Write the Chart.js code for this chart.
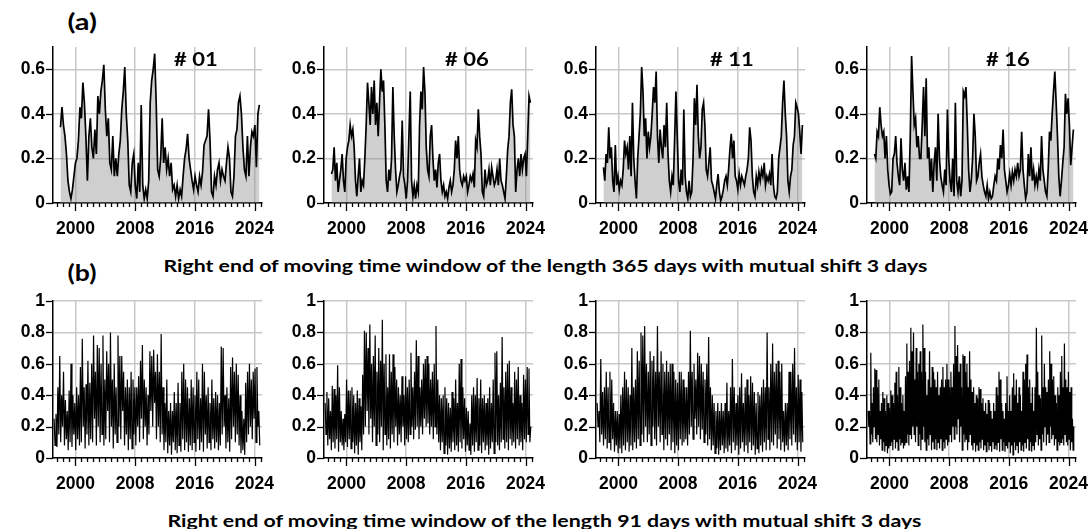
<!DOCTYPE html>
<html><head><meta charset="utf-8">
<script src="https://cdn.jsdelivr.net/npm/chart.js@4.4.1/dist/chart.umd.min.js"></script>
<style>
html,body{margin:0;padding:0;background:#fff;width:1090px;height:529px;overflow:hidden;position:relative}
canvas{position:absolute}
.t{position:absolute;font-family:Lato,'Noto Sans',sans-serif;font-weight:700;color:#000;white-space:nowrap;line-height:1;transform-origin:center center}
</style></head><body>
<script>
// ---- (a) 365-day window, panels #01 #06 #11 #16 ----
const a01=[0.34,0.43,0.35,0.30,0.22,0.10,0.05,0.02,0.06,0.12,0.18,0.20,0.28,0.43,0.38,0.54,0.45,0.30,0.10,0.30,0.38,0.25,0.20,0.33,0.22,0.48,0.40,0.50,0.55,0.62,0.42,0.30,0.38,0.18,0.15,0.30,0.12,0.20,0.12,0.22,0.28,0.42,0.50,0.61,0.40,0.28,0.08,0.05,0.18,0.22,0.08,0.02,0.18,0.05,0.44,0.08,0.02,0.06,0.02,0.10,0.45,0.55,0.60,0.67,0.45,0.15,0.12,0.20,0.38,0.18,0.25,0.15,0.20,0.12,0.18,0.06,0.08,0.03,0.08,0.02,0.06,0.03,0.12,0.20,0.24,0.31,0.20,0.15,0.10,0.06,0.12,0.08,0.05,0.12,0.08,0.14,0.26,0.28,0.30,0.42,0.28,0.05,0.03,0.12,0.08,0.15,0.18,0.10,0.15,0.12,0.10,0.18,0.25,0.20,0.05,0.03,0.12,0.30,0.33,0.45,0.48,0.40,0.25,0.15,0.12,0.30,0.12,0.25,0.32,0.30,0.35,0.16,0.40,0.44];
const a06=[0.13,0.15,0.25,0.10,0.18,0.05,0.10,0.15,0.22,0.10,0.05,0.20,0.25,0.28,0.35,0.30,0.33,0.25,0.10,0.03,0.12,0.20,0.05,0.10,0.08,0.20,0.35,0.54,0.45,0.35,0.52,0.40,0.55,0.35,0.45,0.30,0.45,0.60,0.50,0.55,0.35,0.10,0.05,0.15,0.10,0.20,0.52,0.30,0.15,0.05,0.08,0.12,0.15,0.37,0.12,0.08,0.02,0.10,0.30,0.50,0.10,0.03,0.08,0.02,0.08,0.05,0.35,0.50,0.42,0.61,0.50,0.25,0.15,0.12,0.30,0.35,0.20,0.10,0.15,0.07,0.18,0.22,0.10,0.05,0.08,0.03,0.05,0.02,0.07,0.10,0.05,0.08,0.15,0.28,0.20,0.30,0.15,0.10,0.08,0.12,0.10,0.12,0.05,0.08,0.12,0.10,0.13,0.07,0.28,0.25,0.42,0.30,0.22,0.05,0.03,0.15,0.08,0.10,0.15,0.08,0.16,0.12,0.08,0.10,0.15,0.08,0.20,0.10,0.08,0.05,0.02,0.12,0.24,0.30,0.45,0.51,0.35,0.30,0.05,0.15,0.20,0.12,0.22,0.15,0.20,0.22,0.12,0.30,0.48,0.45];
const a11=[0.16,0.10,0.22,0.18,0.34,0.20,0.25,0.10,0.05,0.26,0.08,0.12,0.06,0.10,0.08,0.15,0.28,0.22,0.25,0.15,0.30,0.12,0.45,0.20,0.10,0.02,0.20,0.30,0.40,0.61,0.50,0.30,0.38,0.20,0.32,0.25,0.30,0.40,0.52,0.45,0.59,0.30,0.18,0.33,0.25,0.20,0.35,0.25,0.45,0.22,0.10,0.05,0.12,0.08,0.28,0.50,0.30,0.10,0.05,0.15,0.08,0.42,0.12,0.05,0.02,0.10,0.03,0.05,0.20,0.47,0.35,0.53,0.30,0.20,0.25,0.42,0.45,0.35,0.15,0.12,0.18,0.25,0.10,0.08,0.05,0.02,0.08,0.13,0.05,0.01,0.03,0.06,0.10,0.12,0.08,0.15,0.24,0.31,0.20,0.28,0.12,0.10,0.06,0.13,0.08,0.12,0.10,0.08,0.12,0.15,0.20,0.34,0.28,0.12,0.05,0.03,0.12,0.08,0.14,0.10,0.15,0.12,0.18,0.08,0.12,0.10,0.13,0.08,0.22,0.08,0.03,0.02,0.05,0.20,0.25,0.30,0.45,0.55,0.40,0.30,0.10,0.05,0.12,0.15,0.26,0.30,0.45,0.43,0.40,0.32,0.22,0.35];
const a16=[0.22,0.20,0.32,0.30,0.43,0.35,0.30,0.32,0.20,0.30,0.15,0.08,0.04,0.05,0.20,0.22,0.30,0.18,0.12,0.08,0.29,0.15,0.10,0.18,0.06,0.12,0.05,0.30,0.66,0.50,0.35,0.38,0.25,0.30,0.20,0.20,0.35,0.52,0.30,0.56,0.20,0.25,0.10,0.20,0.05,0.18,0.25,0.10,0.40,0.20,0.12,0.08,0.05,0.15,0.08,0.42,0.20,0.10,0.05,0.20,0.03,0.45,0.10,0.05,0.12,0.03,0.10,0.50,0.48,0.52,0.35,0.15,0.05,0.10,0.20,0.40,0.30,0.10,0.12,0.18,0.22,0.12,0.08,0.05,0.03,0.08,0.02,0.05,0.02,0.03,0.08,0.12,0.10,0.20,0.15,0.26,0.20,0.33,0.15,0.10,0.05,0.08,0.13,0.08,0.14,0.10,0.15,0.12,0.18,0.12,0.15,0.32,0.15,0.08,0.02,0.05,0.22,0.12,0.25,0.10,0.15,0.08,0.12,0.08,0.15,0.10,0.30,0.15,0.10,0.05,0.03,0.15,0.32,0.28,0.40,0.50,0.59,0.45,0.30,0.12,0.03,0.10,0.18,0.25,0.49,0.40,0.47,0.35,0.17,0.25,0.33];

// ---- (b) 91-day window, same panels ----
const b01=[0.25,0.08,0.28,0.07,0.45,0.15,0.65,0.1,0.4,0.2,0.55,0.08,0.37,0.12,0.3,0.05,0.43,0.1,0.6,0.07,0.4,0.15,0.35,0.05,0.45,0.12,0.4,0.08,0.58,0.1,0.76,0.2,0.45,0.06,0.47,0.15,0.62,0.08,0.48,0.12,0.6,0.1,0.78,0.25,0.55,0.08,0.72,0.2,0.7,0.1,0.6,0.15,0.78,0.08,0.5,0.12,0.68,0.3,0.6,0.1,0.8,0.2,0.5,0.06,0.6,0.15,0.45,0.1,0.78,0.2,0.65,0.12,0.65,0.3,0.55,0.08,0.45,0.15,0.5,0.05,0.45,0.12,0.55,0.06,0.5,0.15,0.45,0.08,0.45,0.2,0.52,0.1,0.62,0.25,0.72,0.12,0.5,0.2,0.45,0.08,0.4,0.15,0.68,0.3,0.65,0.2,0.69,0.35,0.55,0.12,0.66,0.2,0.55,0.1,0.79,0.15,0.45,0.05,0.35,0.1,0.5,0.03,0.3,0.08,0.35,0.02,0.3,0.1,0.42,0.05,0.35,0.03,0.48,0.08,0.35,0.04,0.55,0.12,0.6,0.05,0.5,0.1,0.45,0.04,0.38,0.08,0.5,0.05,0.45,0.1,0.4,0.04,0.55,0.12,0.5,0.05,0.38,0.1,0.6,0.04,0.55,0.15,0.4,0.06,0.45,0.1,0.35,0.05,0.5,0.12,0.38,0.06,0.42,0.1,0.4,0.05,0.35,0.08,0.71,0.15,0.7,0.2,0.4,0.06,0.45,0.1,0.38,0.04,0.58,0.12,0.64,0.2,0.55,0.1,0.6,0.15,0.53,0.08,0.4,0.03,0.3,0.05,0.25,0.02,0.48,0.1,0.55,0.15,0.6,0.2,0.5,0.12,0.55,0.25,0.57,0.1,0.58,0.2,0.3,0.08];
const b06=[0.35,0.15,0.42,0.08,0.38,0.12,0.3,0.05,0.46,0.1,0.44,0.06,0.4,0.12,0.59,0.04,0.45,0.1,0.3,0.08,0.25,0.05,0.28,0.1,0.5,0.07,0.43,0.12,0.43,0.06,0.45,0.1,0.4,0.03,0.35,0.08,0.43,0.02,0.38,0.1,0.33,0.05,0.53,0.15,0.81,0.2,0.8,0.3,0.7,0.15,0.85,0.25,0.6,0.1,0.65,0.2,0.78,0.08,0.55,0.15,0.7,0.1,0.62,0.2,0.88,0.05,0.6,0.15,0.66,0.08,0.45,0.12,0.66,0.06,0.55,0.15,0.66,0.1,0.58,0.2,0.5,0.08,0.45,0.15,0.4,0.1,0.52,0.2,0.4,0.08,0.52,0.12,0.45,0.1,0.5,0.15,0.67,0.2,0.45,0.12,0.55,0.18,0.75,0.2,0.65,0.12,0.45,0.2,0.5,0.15,0.6,0.25,0.63,0.2,0.65,0.22,0.6,0.15,0.5,0.2,0.55,0.12,0.6,0.2,0.84,0.15,0.5,0.1,0.4,0.05,0.38,0.1,0.4,0.03,0.45,0.08,0.38,0.02,0.35,0.06,0.32,0.04,0.42,0.1,0.38,0.05,0.5,0.08,0.35,0.04,0.6,0.1,0.63,0.06,0.45,0.12,0.38,0.04,0.32,0.08,0.3,0.05,0.22,0.02,0.4,0.08,0.45,0.04,0.4,0.1,0.51,0.05,0.38,0.08,0.5,0.03,0.38,0.1,0.4,0.05,0.35,0.08,0.38,0.02,0.45,0.06,0.35,0.1,0.5,0.03,0.67,0.1,0.68,0.08,0.4,0.05,0.48,0.1,0.77,0.12,0.45,0.06,0.55,0.1,0.6,0.05,0.62,0.12,0.45,0.08,0.35,0.1,0.55,0.06,0.5,0.12,0.58,0.08,0.4,0.1,0.35,0.05,0.53,0.12,0.5,0.1,0.58,0.15,0.57,0.1,0.2];
const b11=[0.35,0.2,0.3,0.1,0.63,0.15,0.42,0.08,0.45,0.12,0.55,0.06,0.45,0.1,0.55,0.05,0.5,0.12,0.35,0.04,0.3,0.08,0.3,0.03,0.28,0.06,0.4,0.03,0.45,0.08,0.55,0.05,0.5,0.1,0.45,0.04,0.4,0.08,0.7,0.05,0.45,0.1,0.5,0.06,0.68,0.12,0.62,0.08,0.8,0.15,0.78,0.1,0.84,0.2,0.6,0.1,0.55,0.15,0.68,0.08,0.62,0.2,0.65,0.12,0.55,0.08,0.84,0.2,0.55,0.1,0.68,0.15,0.6,0.05,0.55,0.12,0.62,0.08,0.55,0.15,0.6,0.05,0.6,0.1,0.55,0.03,0.5,0.08,0.48,0.05,0.55,0.12,0.55,0.08,0.5,0.1,0.45,0.12,0.45,0.08,0.55,0.15,0.81,0.2,0.55,0.12,0.6,0.25,0.5,0.15,0.67,0.2,0.65,0.12,0.6,0.18,0.55,0.1,0.5,0.15,0.6,0.08,0.77,0.12,0.45,0.05,0.4,0.08,0.35,0.03,0.3,0.06,0.35,0.02,0.3,0.05,0.35,0.08,0.3,0.03,0.35,0.06,0.48,0.04,0.3,0.08,0.45,0.03,0.63,0.1,0.45,0.05,0.35,0.08,0.4,0.02,0.45,0.06,0.54,0.1,0.35,0.04,0.45,0.08,0.5,0.03,0.4,0.1,0.52,0.05,0.48,0.08,0.42,0.02,0.35,0.06,0.42,0.03,0.4,0.08,0.45,0.04,0.5,0.1,0.45,0.05,0.8,0.12,0.45,0.05,0.6,0.1,0.73,0.08,0.55,0.15,0.6,0.06,0.62,0.12,0.55,0.05,0.6,0.1,0.3,0.04,0.35,0.08,0.35,0.05,0.55,0.12,0.55,0.08,0.6,0.15,0.7,0.1,0.45,0.05,0.53,0.1,0.5,0.04,0.42,0.1];
const b16=[0.3,0.2,0.3,0.09,0.67,0.15,0.35,0.1,0.45,0.2,0.57,0.12,0.56,0.1,0.45,0.15,0.5,0.08,0.3,0.12,0.35,0.05,0.42,0.1,0.38,0.04,0.3,0.08,0.4,0.03,0.35,0.06,0.32,0.08,0.43,0.1,0.4,0.05,0.35,0.12,0.48,0.06,0.55,0.1,0.4,0.05,0.58,0.12,0.45,0.08,0.35,0.1,0.4,0.06,0.3,0.08,0.52,0.1,0.73,0.15,0.55,0.08,0.62,0.15,0.83,0.12,0.68,0.2,0.8,0.15,0.5,0.1,0.7,0.2,0.55,0.08,0.6,0.15,0.68,0.05,0.55,0.12,0.85,0.2,0.7,0.1,0.55,0.05,0.4,0.12,0.5,0.08,0.68,0.15,0.45,0.05,0.58,0.1,0.55,0.06,0.5,0.12,0.45,0.05,0.55,0.1,0.4,0.06,0.45,0.12,0.5,0.05,0.58,0.1,0.45,0.06,0.5,0.12,0.6,0.08,0.5,0.1,0.45,0.15,0.55,0.1,0.45,0.2,0.6,0.12,0.84,0.2,0.65,0.15,0.72,0.25,0.55,0.1,0.6,0.2,0.45,0.05,0.66,0.15,0.65,0.1,0.55,0.12,0.6,0.05,0.45,0.1,0.68,0.15,0.5,0.08,0.42,0.05,0.45,0.1,0.35,0.04,0.4,0.08,0.38,0.05,0.45,0.1,0.44,0.06,0.35,0.12,0.38,0.05,0.3,0.08,0.35,0.04,0.28,0.1,0.37,0.05,0.35,0.08,0.3,0.04,0.25,0.1,0.35,0.06,0.3,0.08,0.45,0.05,0.4,0.1,0.55,0.04,0.5,0.12,0.35,0.05,0.3,0.1,0.25,0.04,0.35,0.08,0.52,0.06,0.3,0.1,0.4,0.03,0.3,0.08,0.45,0.02,0.54,0.1,0.4,0.05,0.5,0.08,0.35,0.03,0.45,0.1,0.4,0.05,0.3,0.08,0.55,0.04,0.5,0.1,0.6,0.06,0.66,0.12,0.45,0.05,0.5,0.1,0.35,0.04,0.45,0.08,0.3,0.05,0.45,0.1,0.83,0.15,0.55,0.08,0.4,0.12,0.38,0.05,0.78,0.15,0.45,0.1,0.6,0.2,0.45,0.08,0.42,0.15,0.5,0.1,0.68,0.2,0.6,0.12,0.5,0.15,0.52,0.08,0.4,0.12,0.35,0.05,0.45,0.1,0.4,0.08,0.55,0.1,0.65,0.12,0.45,0.08,0.73,0.15,0.5,0.1,0.45,0.08,0.55,0.12,0.42,0.05,0.45,0.1,0.25,0.05,0.2];

const panelIds=['# 01','# 06','# 11','# 16'];
const seriesA=[a01,a06,a11,a16];
const seriesB=[b01,b06,b11,b16];
const spanA=[1998.0,2024.65];   // first/last right-end date, row (a)
const spanB=[1997.15,2024.7];   // row (b)
const xMajor=[2000,2008,2016,2024];
const xMin=1997, xMax=2025;
const yTicksA=[0,0.1,0.2,0.3,0.4,0.5,0.6,0.7];
const yTicksB=[0,0.1,0.2,0.3,0.4,0.5,0.6,0.7,0.8,0.9,1];
const xTickVals=[];
for(let k=-3;k<=31;k++) xTickVals.push(+(2000+0.8*k).toFixed(2));

// ---- layout ----
const panelLeft=[53,324,596,867];
const rowA={top:47,bottom:203}, rowB={top:301,bottom:458};
const plotW=209, YW=50, PT=12, PR=20, XH=38;
const GRID='#c8c8c8';
const isMajor=v=>xMajor.some(m=>Math.abs(m-v)<0.05);
const yLabel=v=>{const r=Math.round(v*10); if(r%2) return ''; return r===0?'0':(r===10?'1':(r/10).toFixed(1));};

// pick a tick-label font size so that "2000" is ~39px wide, like the original
const FAM='"Liberation Sans", Arial, sans-serif';
const mctx=document.createElement('canvas').getContext('2d');
mctx.font='bold 20px '+FAM;
const w20=mctx.measureText('2000').width;
const tickSize=Math.round(20*39/w20*10)/10;
const tickFont={family:FAM,weight:'bold',size:tickSize};

const tickMarks={id:'tickMarks',afterDraw(chart){
  const {ctx,chartArea:a,scales:{x,y}}=chart;
  ctx.save(); ctx.strokeStyle='#000'; ctx.lineWidth=1.3;
  x.ticks.forEach(t=>{const p=Math.round(x.getPixelForValue(t.value))+0.5; const L=isMajor(t.value)?8:4;
    ctx.beginPath(); ctx.moveTo(p,a.bottom); ctx.lineTo(p,a.bottom+L); ctx.stroke();});
  y.ticks.forEach(t=>{const p=Math.round(y.getPixelForValue(t.value))+0.5; const L=(Math.round(t.value*10)%2===0)?7:4;
    ctx.beginPath(); ctx.moveTo(a.left,p); ctx.lineTo(a.left-L,p); ctx.stroke();});
  ctx.restore();
}};

function makePanel(vals,span,yTicks,yMax,filled,left,top,bottom){
  const c=document.createElement('canvas');
  c.width=YW+plotW+PR; c.height=PT+(bottom-top)+XH;
  c.style.left=(left-YW)+'px'; c.style.top=(top-PT)+'px';
  document.body.appendChild(c);
  const times=vals.map((v,i)=>span[0]+i*(span[1]-span[0])/(vals.length-1));
  new Chart(c,{type:'line',
    data:{labels:times,datasets:[{data:vals,borderColor:'#000',borderWidth:filled?1.7:1.2,pointRadius:0,tension:0,
      fill:filled?'origin':false,backgroundColor:'rgba(140,140,140,0.42)'}]},
    options:{responsive:false,animation:false,devicePixelRatio:1,
      layout:{padding:{top:PT,right:PR,left:0,bottom:0}},
      plugins:{legend:{display:false},tooltip:{enabled:false}},
      scales:{
        x:{type:'linear',min:xMin,max:xMax,
          afterBuildTicks:s=>{s.ticks=xTickVals.map(v=>({value:v}));},
          afterFit:s=>{s.height=XH;},
          grid:{color:ctx=>(ctx.tick&&isMajor(ctx.tick.value))?GRID:'rgba(0,0,0,0)',lineWidth:1.5,drawTicks:true,tickLength:11,tickColor:'rgba(0,0,0,0)'},
          border:{display:true,color:'#000',width:1.5},
          ticks:{autoSkip:false,maxRotation:0,minRotation:0,padding:5,color:'#000',font:tickFont,
            callback:v=>isMajor(v)?String(Math.round(v)):''}},
        y:{min:0,max:yMax,
          afterBuildTicks:s=>{s.ticks=yTicks.map(v=>({value:v}));},
          afterFit:s=>{s.width=YW;},
          grid:{color:GRID,lineWidth:1.5,drawTicks:true,tickLength:7,tickColor:'rgba(0,0,0,0)'},
          border:{display:true,color:'#000',width:1.5},
          ticks:{padding:1,color:'#000',font:tickFont,callback:v=>yLabel(v)}}
      }},
    plugins:[tickMarks]});
}

function addText(str,cx,cy,size,targetW){
  const d=document.createElement('div'); d.className='t'; d.textContent=str; d.style.fontSize=size+'px';
  document.body.appendChild(d);
  const w=d.offsetWidth,h=d.offsetHeight;
  d.style.left=(cx-w/2)+'px'; d.style.top=(cy-h/2)+'px';
  if(targetW) d.style.transform='scaleX('+(targetW/w)+')';
}

for(let i=0;i<4;i++){
  makePanel(seriesA[i],spanA,yTicksA,0.7,true,panelLeft[i],rowA.top,rowA.bottom);
  makePanel(seriesB[i],spanB,yTicksB,1,false,panelLeft[i],rowB.top,rowB.bottom);
}
const idX=[196,467,732,1008];
addText('(a)',82,22,22,29);
addText('(b)',82,273,22,29);
panelIds.forEach((s,i)=>addText(s,idX[i],59,18,44));
addText('Right end of moving time window of the length 365 days with mutual shift 3 days',545,265,17,764);
addText('Right end of moving time window of the length 91 days with mutual shift 3 days',544,520,17,754);
</script>
</body></html>
